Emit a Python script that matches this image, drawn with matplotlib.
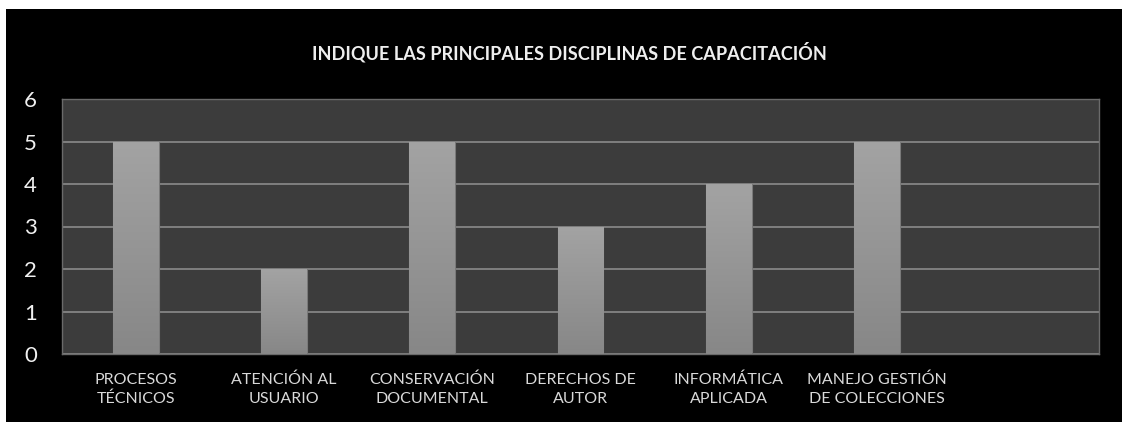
import matplotlib
matplotlib.use("Agg")
import matplotlib.pyplot as plt
import numpy as np
from matplotlib.colors import LinearSegmentedColormap

categories = ["PROCESOS\nTÉCNICOS", "ATENCIÓN AL\nUSUARIO", "CONSERVACIÓN\nDOCUMENTAL",
              "DERECHOS DE\nAUTOR", "INFORMÁTICA\nAPLICADA", "MANEJO GESTIÓN\nDE COLECCIONES", ""]
values = [5, 2, 5, 3, 4, 5, 0]
yticks = [0, 1, 2, 3, 4, 5, 6]
title = "INDIQUE LAS PRINCIPALES DISCIPLINAS DE CAPACITACIÓN"

plt.rcParams['font.family'] = ['Lato', 'DejaVu Sans']

W, H = 1122, 422
fig = plt.figure(figsize=(W / 100, H / 100), dpi=100)
fig.patch.set_facecolor("white")

# black chart area
bg = fig.add_axes([6 / W, 0, 1 - 6 / W, (H - 9) / H])
bg.set_facecolor("black")
bg.set_xticks([]); bg.set_yticks([])
for s in bg.spines.values():
    s.set_visible(False)
bg.set_zorder(0)

fig.text(9 / W, 1 - 0.5 / H, "Gráfico 6", color="#404040", fontsize=32, va="baseline", ha="left")

ax = fig.add_axes([62 / W, (H - 354) / H, (1099 - 62) / W, (354 - 99) / H])
ax.set_zorder(1)
ax.set_facecolor("#3c3c3c")
x = np.arange(len(categories))
ax.set_yticks(yticks)
ax.yaxis.grid(True, color="#858585", linewidth=1.3)
ax.set_axisbelow(True)

bars = ax.bar(x, values, width=0.31, color="#989898", edgecolor="#7a7a7a", linewidth=0.8, zorder=2)
grad = np.linspace(0, 1, 256).reshape(-1, 1)
cmap = LinearSegmentedColormap.from_list("g", ["#878787", "#a3a3a3"])
for b, v in zip(bars, values):
    if v <= 0:
        continue
    x0 = b.get_x(); w = b.get_width()
    im = ax.imshow(grad, extent=[x0, x0 + w, 0, v], origin="lower", aspect="auto",
                   cmap=cmap, zorder=3)
    im.set_clip_path(b)
ax.set_aspect("auto")
ax.set_xlim(-0.5, len(categories) - 0.5)
ax.set_ylim(0, 6)

ax.set_xticks(x)
ax.set_xticklabels(categories, color="#d9d9d9", fontsize=11.5, linespacing=1.45)
ax.tick_params(axis="x", length=0, pad=13.5)
ax.tick_params(axis="y", length=0, pad=18, labelcolor="#f0f0f0", labelsize=16)
for s in ax.spines.values():
    s.set_color("#6a6a6a")
    s.set_linewidth(1.0)

fig.text(569 / W, 1 - 52 / H, title, color="#eeeeee", fontsize=13.1, fontweight="bold",
         ha="center", va="center")

fig.savefig("out.png", dpi=100, facecolor=fig.get_facecolor())
